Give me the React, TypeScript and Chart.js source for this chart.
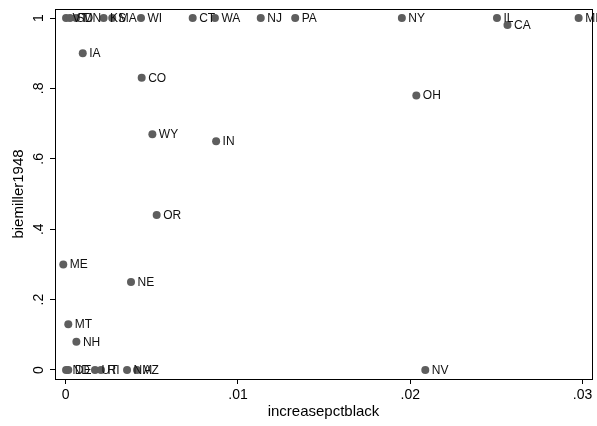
import React, { useEffect, useRef } from "react";
import { Chart, registerables } from "chart.js";

Chart.register(...registerables);

const states = ["VT","SD","MN","KS","MA","WI","CT","WA","NJ","PA","NY","IL","CA","MI","IA","CO","OH","WY","IN","OR","ME","NE","MT","NH","ND","DE","UT","RI","NM","AZ","NV"];
const increasepctblack = [0.00002,0.00025,0.0006,0.0022,0.0027,0.00437,0.00737,0.00866,0.01132,0.01332,0.01951,0.02503,0.02564,0.02977,0.00099,0.00441,0.02035,0.00503,0.00873,0.00528,-0.00014,0.00379,0.00015,0.00062,0.00002,0.00015,0.0017,0.00205,0.00356,0.00414,0.02087];
const biemiller1948 = [1,1,1,1,1,1,1,1,1,1,1,1,0.98,1,0.9,0.83,0.78,0.67,0.65,0.44,0.3,0.25,0.13,0.08,0,0,0,0,0,0,0];

const xTicks = [0, 0.01, 0.02, 0.03];
const xTickLabels = ["0", ".01", ".02", ".03"];
const yTicks = [0, 0.2, 0.4, 0.6, 0.8, 1];
const yTickLabels = ["0", ".2", ".4", ".6", ".8", "1"];

const FONT = "'Liberation Sans', Arial, Helvetica, sans-serif";

const framePlugin = {
  id: "frame",
  afterDraw(chart: any) {
    const { ctx, chartArea } = chart;
    ctx.save();
    ctx.strokeStyle = "#000";
    ctx.lineWidth = 1;
    const l = Math.round(chartArea.left) + 0.5;
    const t = Math.round(chartArea.top) + 0.5;
    const r = Math.round(chartArea.right) + 0.5;
    const b = Math.round(chartArea.bottom) + 0.5;
    ctx.strokeRect(l, t, r - l, b - t);
    ctx.restore();
  },
};

const labelPlugin = {
  id: "pointLabels",
  afterDatasetsDraw(chart: any) {
    const { ctx } = chart;
    const meta = chart.getDatasetMeta(0);
    ctx.save();
    ctx.font = `12px ${FONT}`;
    ctx.fillStyle = "#111";
    ctx.textAlign = "left";
    ctx.textBaseline = "middle";
    meta.data.forEach((el: any, i: number) => {
      ctx.fillText(states[i], el.x + 6.5, el.y + 0.5);
    });
    ctx.restore();
  },
};

export default function App() {
  const ref = useRef<HTMLCanvasElement>(null);
  useEffect(() => {
    if (!ref.current) return;
    const chart = new Chart(ref.current, {
      type: "scatter",
      data: {
        datasets: [
          {
            data: increasepctblack.map((x, i) => ({ x, y: biemiller1948[i] })),
            backgroundColor: "#5e5e5e",
            borderColor: "#5e5e5e",
            borderWidth: 0,
            pointRadius: 4,
          },
        ],
      },
      options: {
        responsive: false,
        animation: false,
        devicePixelRatio: 1,
        layout: { autoPadding: false, padding: { top: 9, right: 5, left: 0, bottom: 0 } },
        plugins: { legend: { display: false }, tooltip: { enabled: false } },
        scales: {
          x: {
            type: "linear",
            min: -0.000621,
            max: 0.030546,
            border: { display: false },
            grid: { display: true, drawOnChartArea: false, drawTicks: true, tickLength: 5, color: "#000", lineWidth: 1 },
            afterBuildTicks: (s: any) => { s.ticks = xTicks.map((v) => ({ value: v })); },
            afterFit: (s: any) => { s.height = 47; s.paddingLeft = 0; s.paddingRight = 0; },
            ticks: {
              autoSkip: false,
              maxRotation: 0,
              minRotation: 0,
              padding: 3,
              color: "#000",
              font: { family: FONT, size: 14 },
              callback: (v: any) => { const i = xTicks.indexOf(Number(v)); return i >= 0 ? xTickLabels[i] : ""; },
            },
            title: { display: true, text: "increasepctblack", color: "#000", font: { family: FONT, size: 15 }, padding: { top: 0, bottom: 5 } },
          },
          y: {
            type: "linear",
            min: -0.0256,
            max: 1.0256,
            border: { display: false },
            grid: { display: true, drawOnChartArea: false, drawTicks: true, tickLength: 5, color: "#000", lineWidth: 1 },
            afterBuildTicks: (s: any) => { s.ticks = yTicks.map((v) => ({ value: v })); },
            afterFit: (s: any) => { s.width = 55; s.paddingTop = 0; s.paddingBottom = 0; },
            ticks: {
              autoSkip: false,
              minRotation: 90,
              maxRotation: 90,
              crossAlign: "center",
              padding: 5,
              color: "#000",
              font: { family: FONT, size: 14 },
              callback: (v: any) => { const i = yTicks.indexOf(Number(v)); return i >= 0 ? yTickLabels[i] : ""; },
            },
            title: { display: true, text: "biemiller1948", color: "#000", font: { family: FONT, size: 15 }, padding: { top: 10, bottom: 0 } },
          },
        },
      },
      plugins: [framePlugin, labelPlugin],
    });
    return () => chart.destroy();
  }, []);
  return (
    <div style={{ position: "fixed", left: 0, top: 0, width: 597, height: 426, background: "#fff" }}>
      <canvas ref={ref} width={597} height={426} />
    </div>
  );
}
